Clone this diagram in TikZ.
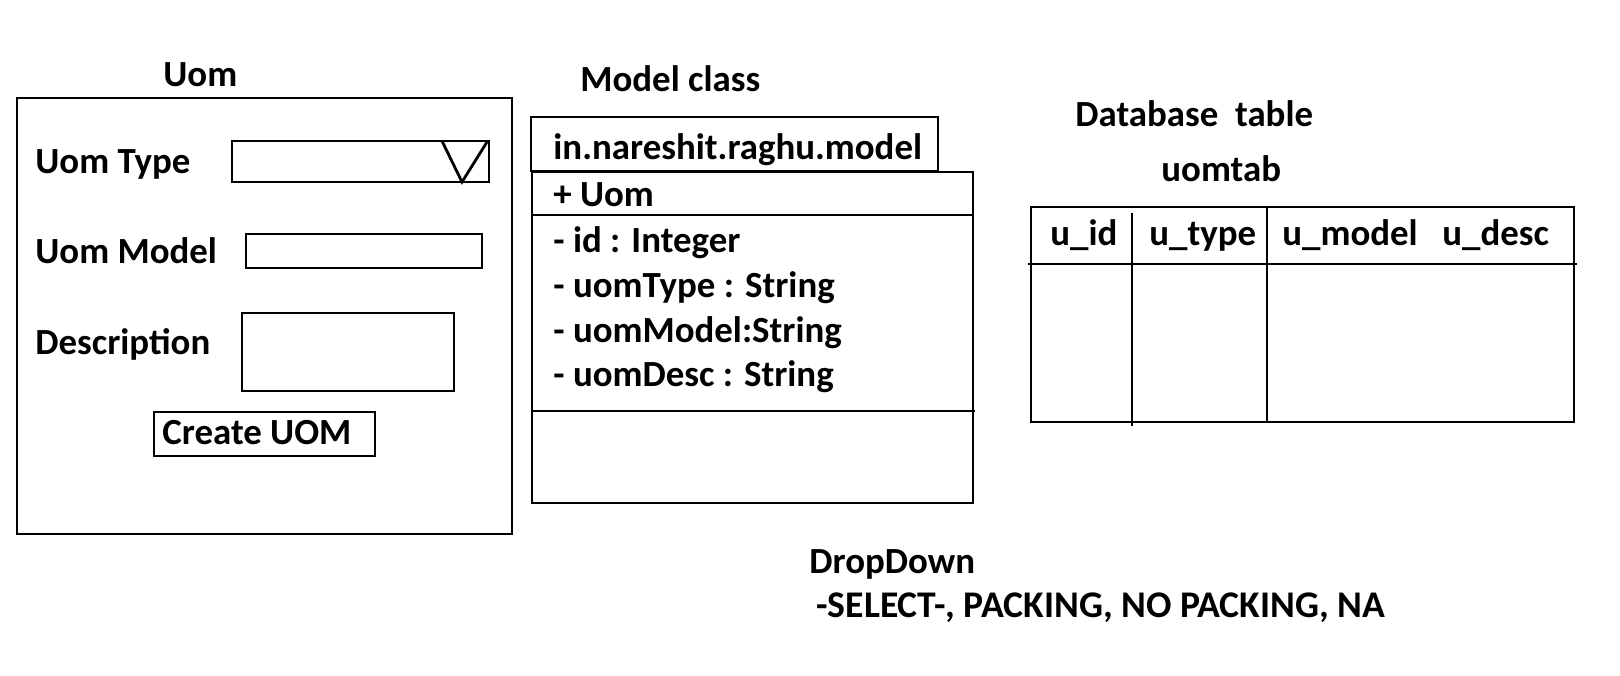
\documentclass[tikz,border=0pt]{standalone}
\usepackage{fontspec}
\setmainfont{Carlito}
\begin{document}
\begin{tikzpicture}[x=0.5bp,y=-0.5bp,
  lbl/.style={anchor=base west,inner sep=0pt,font=\fontsize{18.5pt}{20pt}\selectfont\bfseries},
  lblw/.style={lbl,font=\fontsize{18.9pt}{20pt}\selectfont\bfseries},
  box/.style={line width=1.4bp,draw=black}]
\useasboundingbox[fill=white] (0,0) rectangle (1620,676);
% ---- Uom form ----
\node[lbl] (uomtitle) at (163,87) {Uom};
\draw[box] (17,98) rectangle (512,534);
\node[lbl] (ltype) at (35,173) {Uom Type};
\draw[box] (232,141) rectangle (489,182);
\draw[box] (442,141) -- (462,182) -- (487,142);
\node[lbl] (lmodel) at (35,263) {Uom Model};
\draw[box] (246,234) rectangle (482,268);
\node[lbl] (ldesc) at (35,354) {Description};
\draw[box] (242,313) rectangle (454,391);
\draw[box] (154,412) rectangle (375,456);
\node[lbl] (btn) at (162,444) {Create UOM};
% ---- Model class ----
\node[lbl] (mctitle) at (580,92) {Model class};
\draw[box] (531,117) rectangle (938,171);
\node[lbl] (pkg) at (553,160) {in.nareshit.raghu.model};
\draw[box,fill=white] (532,172) rectangle (973,503);
\draw[box] (532,215) -- (973,215);
\draw[box] (532,411) -- (975,411);
\node[lbl] (cname) at (553,206) {+ Uom};
\node[lbl] (a1) at (553,252) {- id : Integer};
\node[lbl] (a2) at (553,297) {- uomType : String};
\node[lbl] (a3) at (553,342) {- uomModel:String};
\node[lbl] (a4) at (553,386) {- uomDesc : String};
% ---- Database table ----
\node[lbl] (dbtitle) at (1075,127) {Database\ \ table};
\node[lbl] (tname) at (1161,181) {uomtab};
\draw[box] (1031,207) rectangle (1574,422);
\draw[box] (1028,264) -- (1577,264);
\draw[box] (1132,213) -- (1132,426);
\draw[box] (1267,207) -- (1267,422);
\node[lbl] (h1) at (1050,245) {u\_id};
\node[lbl] (h2) at (1149,245) {u\_type};
\node[lbl] (h3) at (1282,245) {u\_model};
\node[lbl] (h4) at (1442,245) {u\_desc};
% ---- DropDown note ----
\node[lbl] (ddtitle) at (809,573) {DropDown};
\node[lblw] (ddvals) at (816,617) {-SELECT-, PACKING, NO PACKING, NA};
\end{tikzpicture}
\end{document}
